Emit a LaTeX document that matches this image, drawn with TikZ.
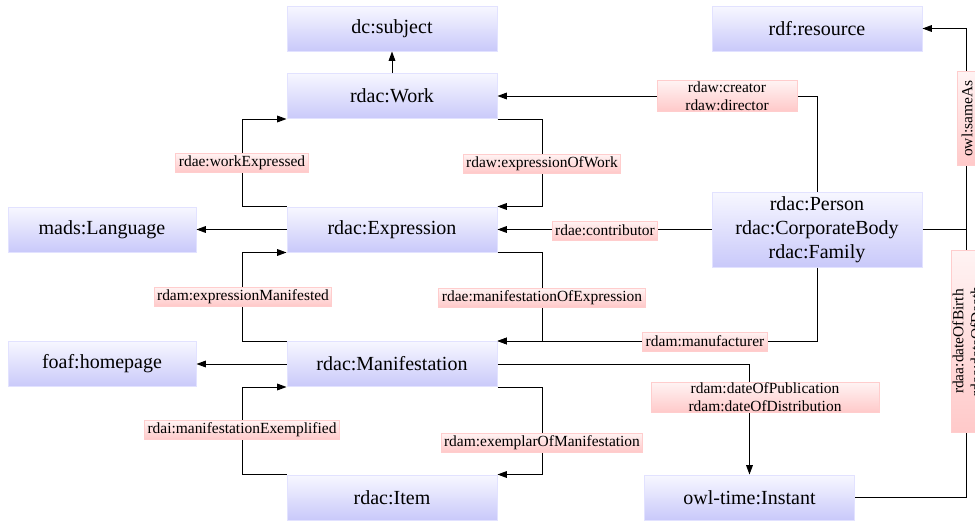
\documentclass[tikz,border=0pt]{standalone}
\usepackage{fontspec}
\setmainfont{Liberation Serif}
\usetikzlibrary{arrows.meta}
\definecolor{clstop}{HTML}{F7F7FF}
\definecolor{clsbot}{HTML}{C9C9FA}
\definecolor{clsline}{HTML}{E2E2FF}
\definecolor{proptop}{HTML}{FFF3F3}
\definecolor{propbot}{HTML}{FFC9C9}
\definecolor{propline}{HTML}{FFCDCD}
\tikzset{
  cls/.style={rectangle, top color=clstop, bottom color=clsbot, draw=clsline,
    line width=0.75pt, minimum width=157.5pt, minimum height=33.75pt,
    inner sep=0pt, font=\fontsize{15}{18}\selectfont, align=center},
  prop/.style={rectangle, top color=proptop, bottom color=propbot, draw=propline,
    line width=0.75pt, inner xsep=2.25pt, inner ysep=0.5pt, minimum height=14.25pt,
    font=\fontsize{11.6}{13.5}\selectfont, align=center},
  link/.style={draw=black, line width=0.75pt, -{Triangle[length=7pt,width=5pt]}},
  plain/.style={draw=black, line width=0.75pt},
}
\begin{document}
\begin{tikzpicture}[x=0.75pt,y=-0.75pt]
\path[use as bounding box, clip] (0,0) rectangle (975,521);

% classes
\node[cls] (subject) at (392,28.5) {dc:subject};
\node[cls] (work) at (392,96) {rdac:Work};
\node[cls] (expr) at (392,229.5) {rdac:Expression};
\node[cls] (manif) at (392,364) {rdac:Manifestation};
\node[cls] (item) at (392,497.5) {rdac:Item};
\node[cls, minimum width=141pt] (lang) at (102,229.5) {mads:Language};
\node[cls, minimum width=141pt] (home) at (102,364) {foaf:homepage};
\node[cls] (res) at (817,28.5) {rdf:resource};
\node[cls, minimum height=56.25pt] (agent) at (817,229.5) {rdac:Person\\rdac:CorporateBody\\rdac:Family};
\node[cls] (instant) at (749.5,497.5) {owl-time:Instant};

% vertical rail on the right
\coordinate (rail) at (966,0);

% properties
\draw[link] (work.north) -- (subject.south);
\draw[link] (expr.north west) -- ++(-44,0) |- (work.south west);
\draw[link] (work.south east) -- ++(45,0) |- (expr.north east);
\draw[link] (agent.west) -- (expr.east);
\draw[link] (expr.west) -- (lang.east);
\draw[link] (manif.north west) -- ++(-44,0) |- (expr.south west);
\draw[link] (expr.south east) -- ++(45,0) |- (manif.north east);
\draw[link] (agent.south) |- (manif.north east);
\draw[link] (agent.north) |- (work.east);
\draw[link] (manif.west) -- (home.east);
\draw[link] (item.north west) -- ++(-44,0) |- (manif.south west);
\draw[link] (manif.south east) -- ++(45,0) |- (item.north east);
\draw[link] (manif.east) -| (instant.north);
\draw[link] (agent.east) -- (agent.east -| rail) |- (res.east);
\draw[plain] (instant.east) -| (agent.east -| rail);

% property labels
\node[prop] (pWE) at (242,162.5) {rdae:workExpressed};
\node[prop] (pEW) at (542,163.5) {rdaw:expressionOfWork};
\node[prop] (pCo) at (605,230.5) {rdae:contributor};
\node[prop] (pEM) at (243,296.5) {rdam:expressionManifested};
\node[prop] (pME) at (542,297.5) {rdae:manifestationOfExpression};
\node[prop] (pMf) at (705,341.5) {rdam:manufacturer};
\node[prop] (pMx) at (242,430) {rdai:manifestationExemplified};
\node[prop] (pXM) at (542,442.5) {rdam:exemplarOfManifestation};
\node[prop, minimum width=105pt] (pCr) at (727,96) {rdaw:creator\\rdaw:director};
\node[prop, minimum width=171pt] (pDP) at (765,397.5) {rdam:dateOfPublication\\rdam:dateOfDistribution};
\node[prop, rotate=90, minimum width=70pt] (pSA) at (967,118.5) {owl:sameAs};
\node[prop, rotate=90, minimum width=137pt] (pDB) at (967,341.5) {rdaa:dateOfBirth\\rdaa:dateOfDeath};
\end{tikzpicture}
\end{document}
